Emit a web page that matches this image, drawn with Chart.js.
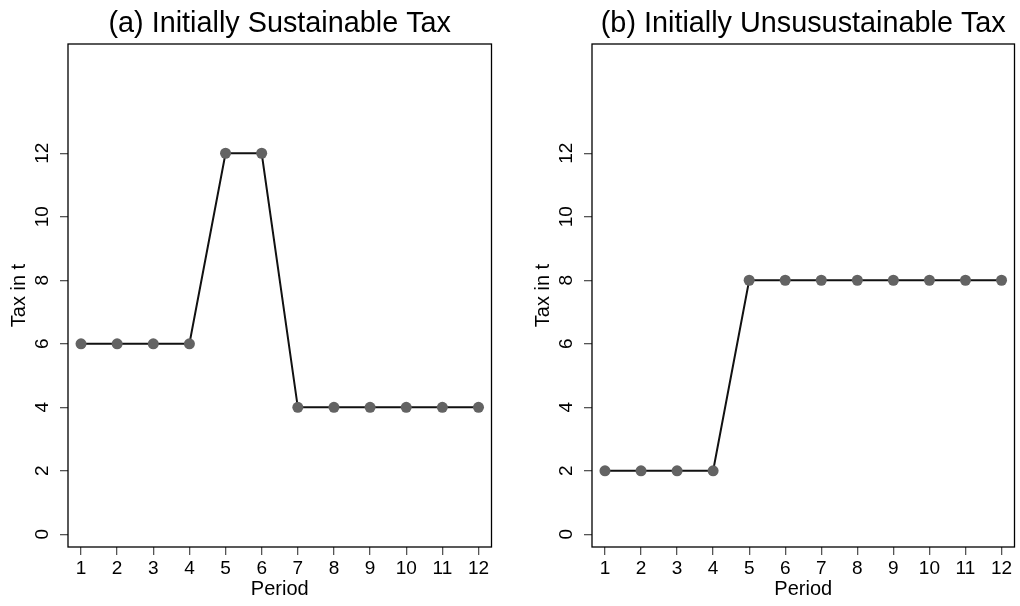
<!DOCTYPE html>
<html>
<head>
<meta charset="utf-8">
<script src="https://cdn.jsdelivr.net/npm/chart.js@4.4.1/dist/chart.umd.min.js"></script>
<style>
  html, body { margin: 0; padding: 0; background: #fff; }
  body { width: 1020px; height: 606px; position: relative; overflow: hidden; }
  canvas { position: absolute; top: 0; }
  #left { left: 0; }
  #right { left: 524px; }
</style>
</head>
<body>
<canvas id="left" width="524" height="606"></canvas>
<canvas id="right" width="496" height="606"></canvas>
<script>
// Tax path per period under the two scenarios
const periods = [1, 2, 3, 4, 5, 6, 7, 8, 9, 10, 11, 12];
const sustainableTax = [6, 6, 6, 6, 12, 12, 4, 4, 4, 4, 4, 4];
const unsustainableTax = [2, 2, 2, 2, 8, 8, 8, 8, 8, 8, 8, 8];
const yTicks = [0, 2, 4, 6, 8, 10, 12];

const FONT = "'Liberation Sans', Arial, Helvetica, sans-serif";

// Frame around the plot area plus vertical y tick labels
const framePlugin = {
  id: 'frame',
  afterDraw(chart) {
    const { ctx, chartArea: a } = chart;
    const y = chart.scales.y;
    ctx.save();
    ctx.strokeStyle = '#000';
    ctx.lineWidth = 1.3;
    ctx.strokeRect(a.left, a.top, a.right - a.left, a.bottom - a.top);
    ctx.fillStyle = '#000';
    ctx.font = '19px ' + FONT;
    ctx.textAlign = 'center';
    ctx.textBaseline = 'middle';
    y.ticks.forEach(t => {
      const py = y.getPixelForValue(t.value);
      ctx.save();
      ctx.translate(a.left - 25.7, py);
      ctx.rotate(-Math.PI / 2);
      ctx.fillText(String(t.value), 0, 0);
      ctx.restore();
    });
    ctx.restore();
  }
};

function makeChart(id, title, values, padRight) {
  return new Chart(document.getElementById(id), {
    type: 'line',
    data: {
      datasets: [{
        data: periods.map((p, i) => ({ x: p, y: values[i] })),
        borderColor: '#111',
        borderWidth: 2,
        pointBackgroundColor: '#636363',
        pointBorderWidth: 0,
        pointRadius: 5.5,
        tension: 0,
        fill: false
      }]
    },
    options: {
      responsive: false,
      animation: false,
      devicePixelRatio: 1,
      layout: { padding: { left: 0, right: padRight, top: 0, bottom: 0 } },
      plugins: {
        legend: { display: false },
        tooltip: { enabled: false },
        title: {
          display: true,
          text: title,
          fullSize: false,
          color: '#000',
          font: { family: FONT, size: 28.8, weight: 'normal' },
          padding: { top: 6.8, bottom: 2.64 }
        }
      },
      scales: {
        x: {
          type: 'linear',
          min: 0.64,
          max: 12.36,
          afterBuildTicks: s => { s.ticks = periods.map(v => ({ value: v })); },
          afterFit: s => { s.height = 59; },
          grid: { drawOnChartArea: false, drawTicks: true, tickLength: 8, color: '#555', lineWidth: 1.3 },
          border: { display: false },
          ticks: { color: '#000', font: { family: FONT, size: 19 }, padding: 2, autoSkip: false, maxRotation: 0 },
          title: {
            display: true, text: 'Period', color: '#000',
            font: { family: FONT, size: 20 }, padding: { top: 0, bottom: 4.5 }
          }
        },
        y: {
          type: 'linear',
          min: -0.4,
          max: 15.44,
          afterBuildTicks: s => { s.ticks = yTicks.map(v => ({ value: v })); },
          afterFit: s => { s.width = 68; },
          grid: { drawOnChartArea: false, drawTicks: true, tickLength: 8, color: '#555', lineWidth: 1.3 },
          border: { display: false },
          ticks: { display: false },
          title: {
            display: true, text: 'Tax in t', color: '#000',
            font: { family: FONT, size: 20 }, padding: { top: 7, bottom: 0 }
          }
        }
      }
    },
    plugins: [framePlugin]
  });
}

makeChart('left', '(a) Initially Sustainable Tax', sustainableTax, 32.5);
makeChart('right', '(b) Initially Unsusustainable Tax', unsustainableTax, 4.5);
</script>
</body>
</html>
